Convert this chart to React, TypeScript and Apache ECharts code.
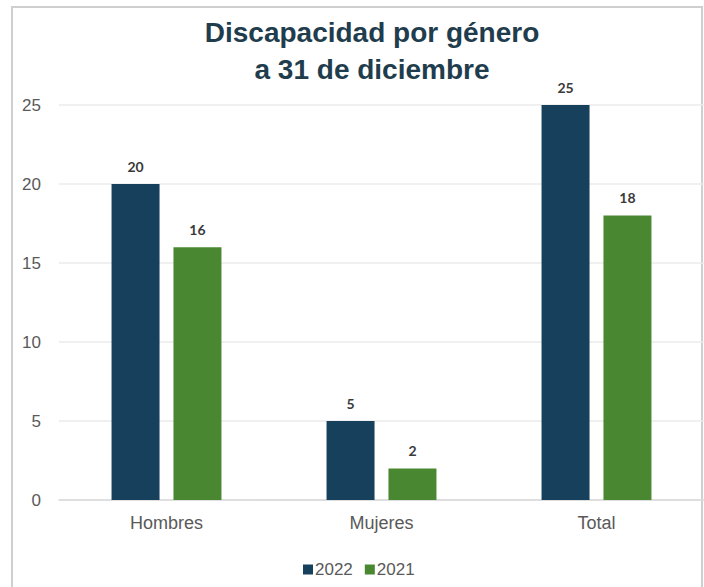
import React, { useEffect, useRef } from "react";
import * as echarts from "echarts";

const categories = ["Hombres", "Mujeres", "Total"];
const seriesNames = ["2022", "2021"];
const values2022 = [20, 5, 25];
const values2021 = [16, 2, 18];
const yTicks = { min: 0, max: 25, interval: 5 };
const titleLines = ["Discapacidad por género", "a 31 de diciembre"];

export default function App() {
  const ref = useRef<HTMLDivElement>(null);
  useEffect(() => {
    if (!ref.current) return;
    const chart = echarts.init(ref.current, null, { renderer: "svg" });
    const labelStyle = {
      show: true,
      position: "top" as const,
      distance: 11,
      color: "#3a3a3a",
      fontFamily: "Lato, 'Open Sans', sans-serif",
      fontWeight: "bold" as const,
      fontSize: 14,
    };
    chart.setOption({
      animation: false,
      backgroundColor: "#ffffff",
      title: {
        text: titleLines.join("\n"),
        left: 367,
        top: 9,
        textAlign: "center",
        textStyle: {
          fontFamily: "'Liberation Sans', Arial, sans-serif",
          fontWeight: "bold",
          fontSize: 28,
          lineHeight: 37,
          color: "#1f3d4d",
        },
      },
      graphic: [
        {
          type: "rect",
          shape: { x: 12, y: 7, width: 690, height: 600 },
          style: { fill: "none", stroke: "#cfcfcf", lineWidth: 2 },
          silent: true,
          z: -1,
        },
      ],
      legend: {
        data: seriesNames,
        left: 298,
        top: 556,
        itemWidth: 10,
        itemHeight: 10,
        itemGap: 12,
        icon: "rect",
        textStyle: {
          fontFamily: "'Liberation Sans', Arial, sans-serif",
          fontSize: 17,
          color: "#595959",
          padding: [0, 0, 0, -3],
        },
      },
      grid: { left: 59, right: -2, top: 105, bottom: 87, containLabel: false },
      xAxis: {
        type: "category",
        data: categories,
        axisTick: { show: false },
        axisLine: { show: true, lineStyle: { color: "#d9d9d9", width: 1.5 } },
        axisLabel: {
          margin: 14,
          fontFamily: "'Liberation Sans', Arial, sans-serif",
          fontSize: 18,
          color: "#595959",
        },
      },
      yAxis: {
        type: "value",
        min: yTicks.min,
        max: yTicks.max,
        interval: yTicks.interval,
        axisLine: { show: false },
        axisTick: { show: false },
        splitLine: { lineStyle: { color: "#ebebeb", width: 1.5 } },
        axisLabel: {
          margin: 18,
          fontFamily: "'Liberation Sans', Arial, sans-serif",
          fontSize: 17,
          color: "#595959",
        },
      },
      series: [
        {
          name: seriesNames[0],
          type: "bar",
          data: values2022,
          barWidth: 48,
          barGap: "29%",
          itemStyle: { color: "#17405c" },
          label: labelStyle,
        },
        {
          name: seriesNames[1],
          type: "bar",
          data: values2021,
          barWidth: 48,
          barGap: "29%",
          itemStyle: { color: "#4a8731" },
          label: labelStyle,
        },
      ],
    });
    return () => chart.dispose();
  }, []);
  return (
    <div
      ref={ref}
      style={{ position: "absolute", left: 0, top: 0, width: 704, height: 587 }}
    />
  );
}
